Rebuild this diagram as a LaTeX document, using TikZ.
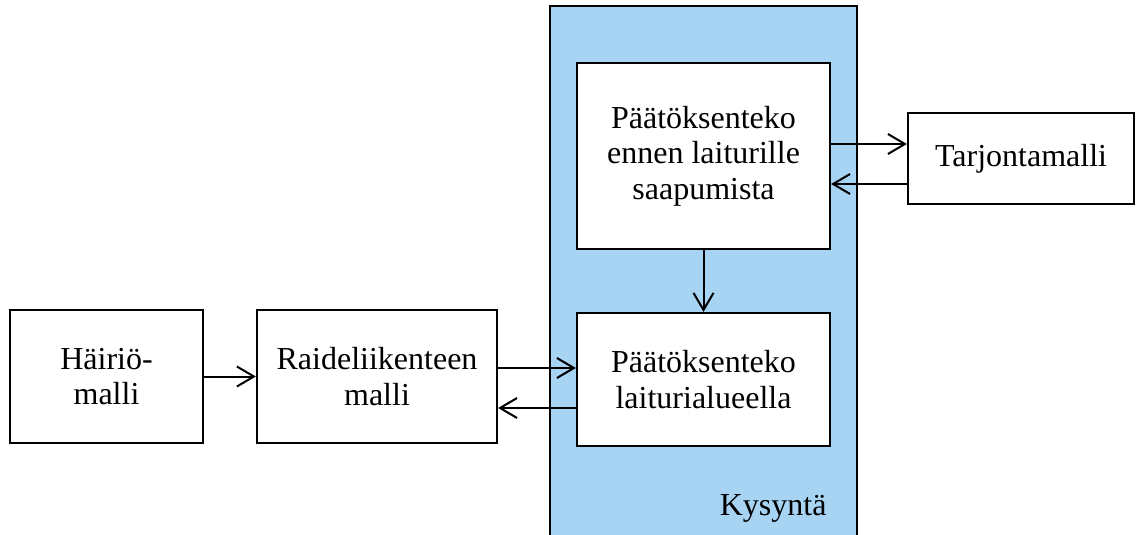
\documentclass[tikz,border=0pt]{standalone}
\usepackage{fontspec}
\setmainfont{Liberation Serif}
\usetikzlibrary{arrows.meta,calc}
\definecolor{demandblue}{RGB}{168,212,243}
\tikzset{
  model/.style={draw=black, line width=2.2pt, fill=white, align=center,
    inner sep=0pt, font=\fontsize{32}{35.5}\selectfont},
  flow/.style={line width=2pt, -{Straight Barb[length=17pt,width=20pt,line width=2pt]}},
}
\begin{document}
\begin{tikzpicture}[x=1pt, y=-1pt]
  \useasboundingbox (0,0) rectangle (1136,535);
  % demand area
  \fill[demandblue] (550,6) rectangle (857,545);
  \draw[line width=2.2pt] (550,545) -- (550,6) -- (857,6) -- (857,545);
  \node[anchor=base east, font=\fontsize{32}{35.5}\selectfont] (kys) at (830,515) {Kysyntä};
  % model boxes
  \node[model, minimum width=193pt, minimum height=133pt] (hm) at (106.5,376.5) {Häiriö-\\malli};
  \node[model, minimum width=240pt, minimum height=133pt] (rm) at (377,376.5) {Raideliikenteen\\malli};
  \node[model, minimum width=253pt, minimum height=186pt] (pa) at (703.5,156) {Päätöksenteko\\ennen laiturille\\saapumista};
  \node[model, minimum width=253pt, minimum height=133pt] (pl) at (703.5,379.5) {Päätöksenteko\\laiturialueella};
  \node[model, minimum width=226pt, minimum height=91pt] (tm) at (1021,158.5) {Tarjontamalli};
  % connections
  \draw[flow] (hm.east) -- (rm.west);
  \draw[flow] ([yshift=8.5pt]rm.east) -- ([yshift=8.5pt]rm.east -| pl.west);
  \draw[flow] ([yshift=-28.5pt]pl.west) -- ([yshift=-28.5pt]pl.west -| rm.east);
  \draw[flow] (pa.south) -- (pl.north);
  \draw[flow] ([yshift=14.5pt]tm.west -| pa.east) -- ([yshift=14.5pt]tm.west);
  \draw[flow] ([yshift=-25.5pt]tm.west) -- ([yshift=-25.5pt]tm.west -| pa.east);
\end{tikzpicture}
\end{document}
